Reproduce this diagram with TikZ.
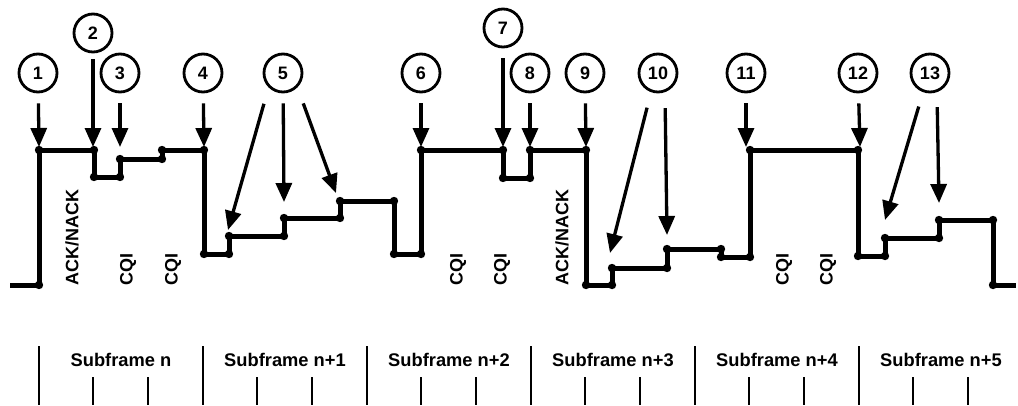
\documentclass[tikz,border=0pt]{standalone}
\usepackage{fontspec}
\setmainfont{Liberation Sans}
\usetikzlibrary{arrows.meta}

\begin{document}
\begin{tikzpicture}[x=1pt, y=-1pt,
    num/.style = {draw, circle, line width=2.8pt, minimum size=38pt, inner sep=0pt,
                  font=\fontsize{18}{18}\selectfont\bfseries},
    pointer/.style = {line width=3.3pt, -{Triangle[length=19pt,width=16pt]}, shorten <=10pt},
    wave/.style = {line width=5pt, line join=miter},
    vlabel/.style = {rotate=90, anchor=west, inner sep=0pt,
                     font=\fontsize{18}{18}\selectfont\bfseries},
    tick/.style = {line width=1.5pt},
    sublabel/.style = {font=\fontsize{18.3}{18}\selectfont\bfseries}]
  \useasboundingbox (0,0) rectangle (1018,405);

  % numbered events
  \node[num] (c1) at (38,73) {1};
  \node[num] (c2) at (93,33) {2};
  \node[num] (c3) at (120,73) {3};
  \node[num] (c4) at (203,73) {4};
  \node[num] (c5) at (283,73) {5};
  \node[num] (c6) at (421,73) {6};
  \node[num] (c7) at (503,28) {7};
  \node[num] (c8) at (530,73) {8};
  \node[num] (c9) at (585,73) {9};
  \node[num] (c10) at (658,73) {10};
  \node[num] (c11) at (746,73) {11};
  \node[num] (c12) at (858,73) {12};
  \node[num] (c13) at (930,73) {13};

  % arrow tips
  \coordinate (t1) at (39,147);
  \coordinate (t2) at (93,147);
  \coordinate (t3) at (120,147);
  \coordinate (t4) at (204,147);
  \coordinate (t5a) at (228,230);
  \coordinate (t5b) at (284,202);
  \coordinate (t5c) at (336,193);
  \coordinate (t6) at (421,147);
  \coordinate (t7) at (503,147);
  \coordinate (t8) at (530,147);
  \coordinate (t9) at (586,147);
  \coordinate (t10a) at (610,253);
  \coordinate (t10b) at (667,235);
  \coordinate (t11) at (746,147);
  \coordinate (t12) at (860,147);
  \coordinate (t13a) at (885,220);
  \coordinate (t13b) at (939,203);

  \draw[pointer] (c1) -- (t1);
  \draw[pointer, shorten <=6pt] (c2) -- (t2);
  \draw[pointer] (c3) -- (t3);
  \draw[pointer] (c4) -- (t4);
  \draw[pointer, shorten <=17pt] (c5.south west) -- (t5a);
  \draw[pointer] (c5) -- (t5b);
  \draw[pointer, shorten <=17pt] (c5.south east) -- (t5c);
  \draw[pointer] (c6) -- (t6);
  \draw[pointer] (c7) -- (t7);
  \draw[pointer] (c8) -- (t8);
  \draw[pointer] (c9) -- (t9);
  \draw[pointer, shorten <=16pt] (c10.250) -- (t10a);
  \draw[pointer, shorten <=16pt] (c10.290) -- (t10b);
  \draw[pointer] (c11) -- (t11);
  \draw[pointer] (c12) -- (t12);
  \draw[pointer, shorten <=15pt] (c13.250) -- (t13a);
  \draw[pointer, shorten <=15pt] (c13.290) -- (t13b);

  % power level
  \draw[wave] (10,285) -- (39,285) -- (39,150) -- (94,150) -- (94,177) -- (120,177)
    -- (120,159) -- (162,159) -- (162,150) -- (204,150) -- (204,254) -- (229,254)
    -- (229,236) -- (284,236) -- (284,218) -- (340,218) -- (340,201) -- (394,201)
    -- (394,254) -- (421,254) -- (421,150) -- (503,150) -- (503,178) -- (530,178)
    -- (530,150) -- (586,150) -- (586,285) -- (612,285) -- (612,268) -- (667,268)
    -- (667,249) -- (721,249) -- (721,257) -- (750,257) -- (750,150) -- (858,150)
    -- (858,256) -- (885,256) -- (885,238) -- (939,238) -- (939,220) -- (993,220)
    -- (993,285) -- (1016,285);
  \foreach \p in {(39,285),(39,150),(94,150),(94,177),(120,177),(120,159),(162,159),
      (162,150),(204,150),(204,254),(229,254),(229,236),(284,236),(284,218),(340,218),
      (340,201),(394,201),(394,254),(421,254),(421,150),(503,150),(503,178),(530,178),
      (530,150),(586,150),(586,285),(612,285),(612,268),(667,268),(667,249),(721,249),
      (721,257),(750,257),(750,150),(858,150),(858,256),(885,256),(885,238),(939,238),
      (939,220),(993,220),(993,285)}
    \fill \p circle (4.2pt);

  % uplink control
  \node[vlabel] (ack1) at (72,286) {ACK/NACK};
  \node[vlabel] (cqi1) at (128,286) {CQI};
  \node[vlabel] (cqi2) at (173,286) {CQI};
  \node[vlabel] (cqi3) at (458,286) {CQI};
  \node[vlabel] (cqi4) at (502,286) {CQI};
  \node[vlabel] (ack2) at (562,286) {ACK/NACK};
  \node[vlabel] (cqi5) at (784,286) {CQI};
  \node[vlabel] (cqi6) at (828,286) {CQI};

  % subframe scale
  \foreach \k/\txt in {0/n, 1/n+1, 2/n+2, 3/n+3, 4/n+4, 5/n+5} {
    \draw[tick] (39+164*\k,346) -- (39+164*\k,405);
    \draw[tick] (93+164*\k,377) -- (93+164*\k,405);
    \draw[tick] (148+164*\k,377) -- (148+164*\k,405);
    \node[sublabel] (sf\k) at (121+164*\k,360) {Subframe \txt};
  }
\end{tikzpicture}
\end{document}
